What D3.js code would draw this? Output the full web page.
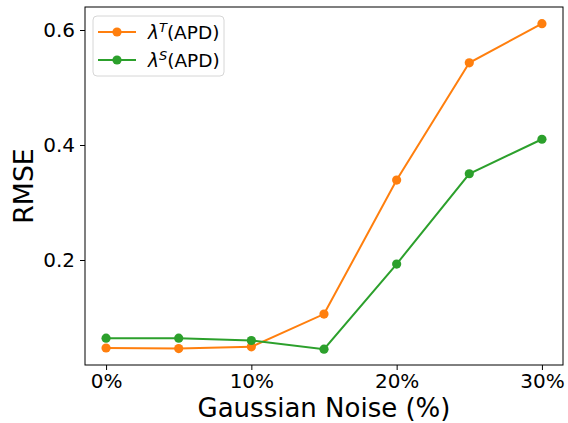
<!DOCTYPE html>
<html>
<head>
<meta charset="utf-8">
<script src="https://cdn.jsdelivr.net/npm/d3@7"></script>
<style>
  body { margin: 0; background: #fff; }
  svg { font-family: "DejaVu Sans", sans-serif; }
</style>
</head>
<body>
<div id="chart"></div>
<script>
/* chart values */
let noiseLevels = [0, 5, 10, 15, 20, 25, 30];
let rmseT = [0.047, 0.046, 0.049, 0.106, 0.339, 0.543, 0.611];
let rmseS = [0.064, 0.064, 0.060, 0.045, 0.193, 0.350, 0.410];
let xTicks = [0, 10, 20, 30];
let yTicks = [0.2, 0.4, 0.6];
let seriesNames = ["T", "S"];
let seriesColors = ["#ff7f0e", "#2ca02c"];

let width = 568, height = 423;
let margin = {top: 7, right: 5, bottom: 58, left: 85};
let pWidth = width - margin.left - margin.right;
let pHeight = height - margin.top - margin.bottom;

let svg = d3.select("#chart").append("svg")
            .attr("width", width)
            .attr("height", height);

let xScale = d3.scaleLinear()
               .domain([-1.45, 31.45])
               .range([0, pWidth]);
let yScale = d3.scaleLinear()
               .domain([0.0174, 0.64])
               .range([pHeight, 0]);

let plot = svg.append("g")
              .attr("transform", `translate(${margin.left}, ${margin.top})`);

// axes
let xAxis = plot.append("g")
                .attr("transform", `translate(0, ${pHeight})`)
                .call(d3.axisBottom(xScale).tickValues(xTicks)
                        .tickFormat(d => d + "%").tickSize(5).tickPadding(3));
let yAxis = plot.append("g")
                .call(d3.axisLeft(yScale).tickValues(yTicks)
                        .tickFormat(d3.format(".1f")).tickSize(5).tickPadding(5));
[xAxis, yAxis].forEach(a => {
  a.select(".domain").remove();
  a.selectAll("line").attr("stroke", "#000").attr("stroke-width", 1);
  a.selectAll("text").attr("font-size", 20).attr("fill", "#000")
   .attr("font-family", "DejaVu Sans");
});
xAxis.selectAll("text").attr("dy", "0.75em");

// frame
plot.append("rect")
    .attr("width", pWidth).attr("height", pHeight)
    .attr("fill", "none").attr("stroke", "#000").attr("stroke-width", 1);

// lines
let allSeries = [rmseT, rmseS];
let line = d3.line()
             .x((d, i) => xScale(noiseLevels[i]))
             .y(d => yScale(d));

allSeries.forEach((s, k) => {
  let g = plot.append("g");
  g.append("path")
   .attr("d", line(s))
   .attr("fill", "none")
   .attr("stroke", seriesColors[k])
   .attr("stroke-width", 2);
  g.selectAll("circle").data(s).enter().append("circle")
   .attr("cx", (d, i) => xScale(noiseLevels[i]))
   .attr("cy", d => yScale(d))
   .attr("r", 4.6)
   .attr("fill", seriesColors[k]);
});

// axis labels
svg.append("text")
   .attr("x", margin.left + pWidth / 2)
   .attr("y", 416.8)
   .attr("text-anchor", "middle")
   .attr("font-size", 26)
   .text("Gaussian Noise (%)");
svg.append("text")
   .attr("transform", `translate(33, ${margin.top + pHeight / 2}) rotate(-90)`)
   .attr("text-anchor", "middle")
   .attr("font-size", 26.7)
   .text("RMSE");

// legend
let legend = svg.append("g").attr("transform", "translate(93, 16)");
legend.append("rect")
      .attr("width", 131).attr("height", 60)
      .attr("rx", 4)
      .attr("fill", "#fff").attr("fill-opacity", 0.8)
      .attr("stroke", "#d6d6d6").attr("stroke-width", 1);
seriesNames.forEach((name, k) => {
  let row = legend.append("g").attr("transform", `translate(0, ${16 + k * 28})`);
  row.append("line")
     .attr("x1", 5).attr("x2", 43)
     .attr("stroke", seriesColors[k]).attr("stroke-width", 2);
  row.append("circle")
     .attr("cx", 24).attr("r", 4.6).attr("fill", seriesColors[k]);
  let t = row.append("text")
     .attr("x", 55).attr("y", 6.5)
     .attr("font-size", 18.5);
  t.append("tspan").attr("font-style", "italic").text("λ");
  t.append("tspan").attr("font-style", "italic").attr("font-size", 13)
   .attr("dy", -7).text(name);
  t.append("tspan").attr("dy", 7).text("(APD)");
});
</script>
</body>
</html>
